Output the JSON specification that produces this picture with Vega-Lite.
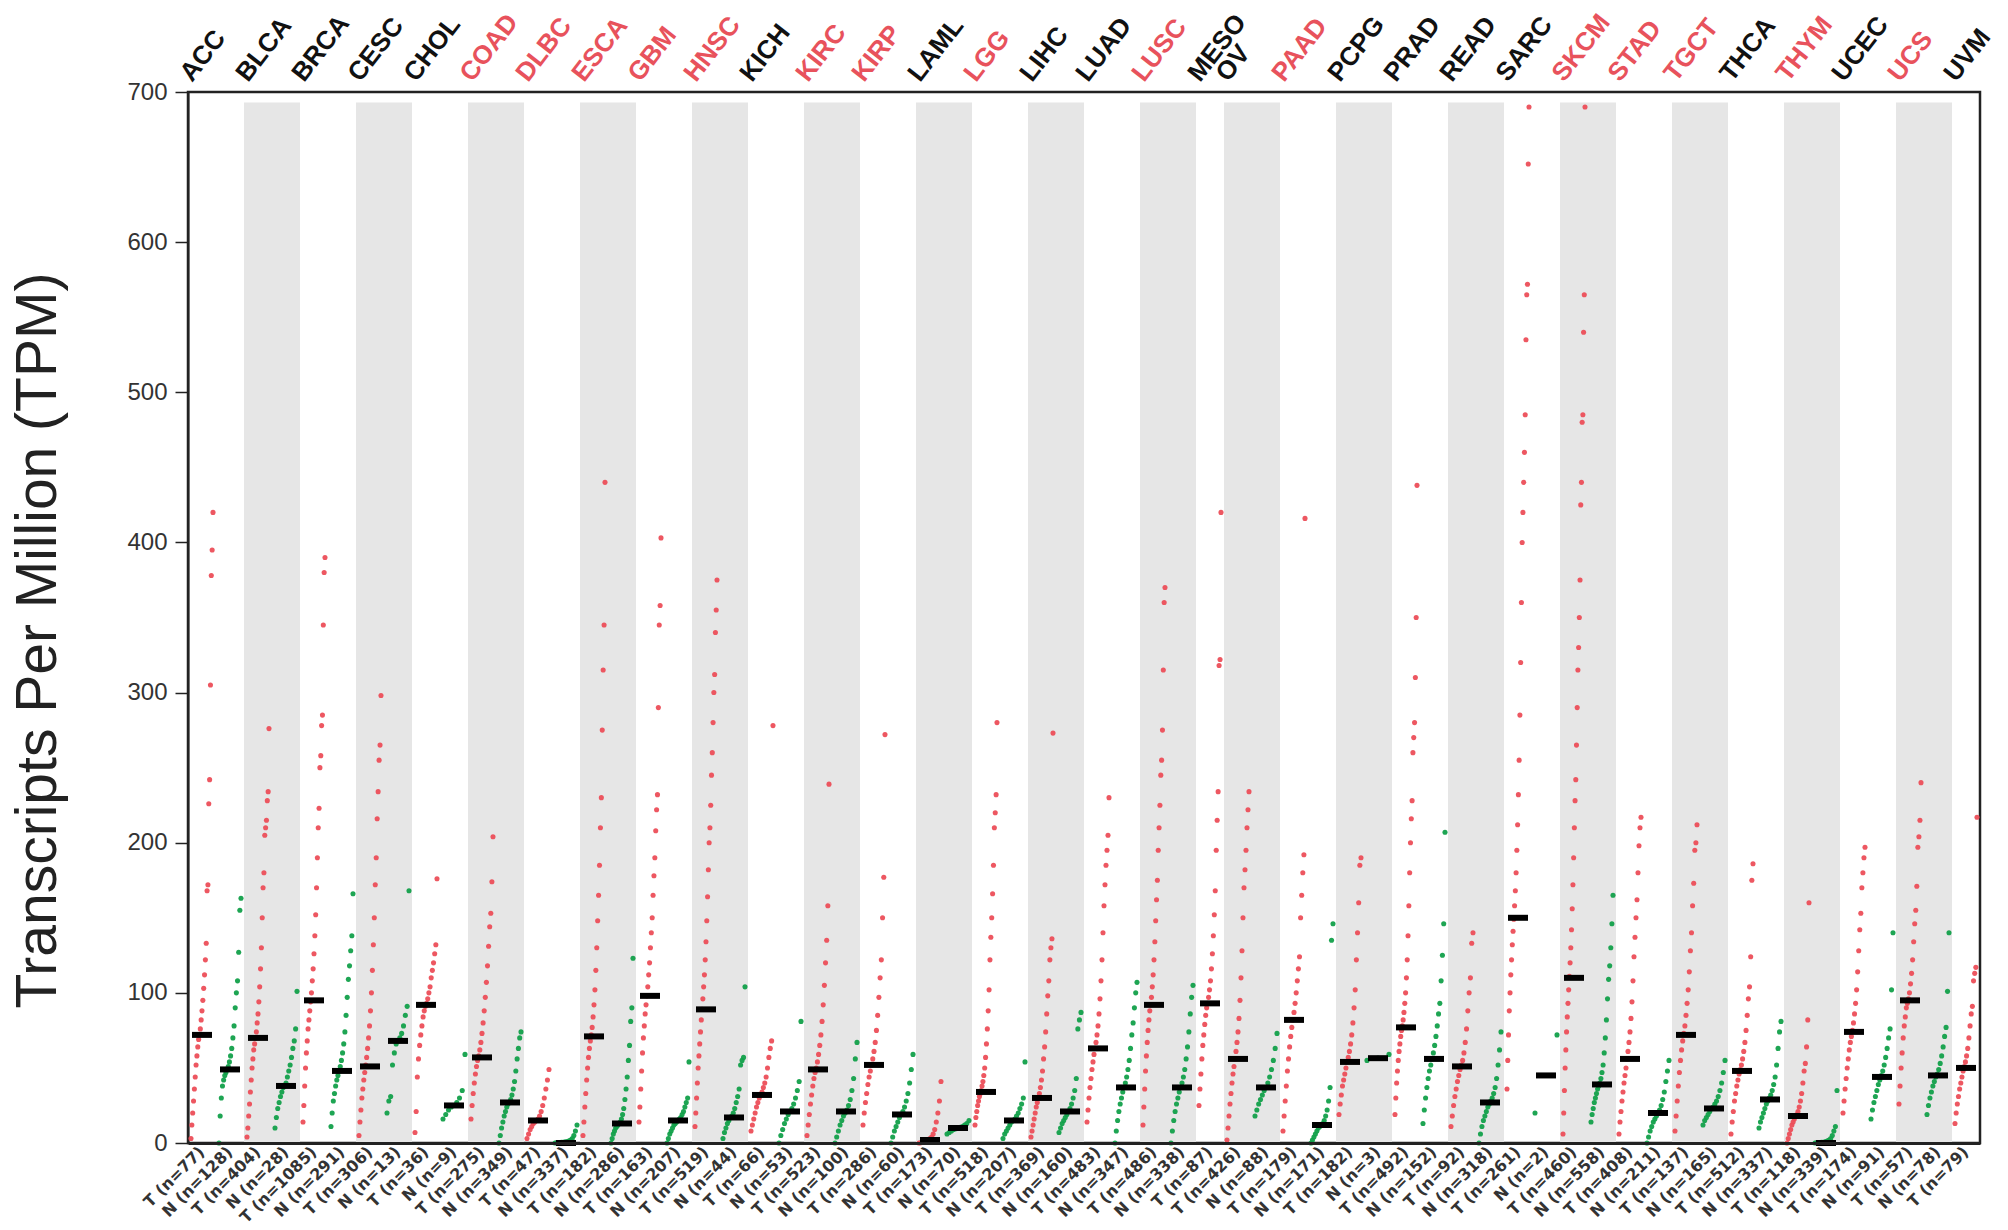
{
  "$schema": "https://vega.github.io/schema/vega-lite/v6.json",
  "width": 1792,
  "height": 1051,
  "autosize": {"type": "none"},
  "padding": {"left": 188, "top": 92, "right": 28, "bottom": 87},
  "background": "white",
  "datasets": {
    "cols": [
      {"k":1,"col":"01 T (n=77)","g":"T","shade":"w","m":72},
      {"k":2,"col":"02 N (n=128)","g":"N","shade":"w","m":49},
      {"k":3,"col":"03 T (n=404)","g":"T","shade":"g","m":70},
      {"k":4,"col":"04 N (n=28)","g":"N","shade":"g","m":38},
      {"k":5,"col":"05 T (n=1085)","g":"T","shade":"w","m":95},
      {"k":6,"col":"06 N (n=291)","g":"N","shade":"w","m":48},
      {"k":7,"col":"07 T (n=306)","g":"T","shade":"g","m":51},
      {"k":8,"col":"08 N (n=13)","g":"N","shade":"g","m":68},
      {"k":9,"col":"09 T (n=36)","g":"T","shade":"w","m":92},
      {"k":10,"col":"10 N (n=9)","g":"N","shade":"w","m":25},
      {"k":11,"col":"11 T (n=275)","g":"T","shade":"g","m":57},
      {"k":12,"col":"12 N (n=349)","g":"N","shade":"g","m":27},
      {"k":13,"col":"13 T (n=47)","g":"T","shade":"w","m":15},
      {"k":14,"col":"14 N (n=337)","g":"N","shade":"w","m":0},
      {"k":15,"col":"15 T (n=182)","g":"T","shade":"g","m":71},
      {"k":16,"col":"16 N (n=286)","g":"N","shade":"g","m":13},
      {"k":17,"col":"17 T (n=163)","g":"T","shade":"w","m":98},
      {"k":18,"col":"18 N (n=207)","g":"N","shade":"w","m":15},
      {"k":19,"col":"19 T (n=519)","g":"T","shade":"g","m":89},
      {"k":20,"col":"20 N (n=44)","g":"N","shade":"g","m":17},
      {"k":21,"col":"21 T (n=66)","g":"T","shade":"w","m":32},
      {"k":22,"col":"22 N (n=53)","g":"N","shade":"w","m":21},
      {"k":23,"col":"23 T (n=523)","g":"T","shade":"g","m":49},
      {"k":24,"col":"24 N (n=100)","g":"N","shade":"g","m":21},
      {"k":25,"col":"25 T (n=286)","g":"T","shade":"w","m":52},
      {"k":26,"col":"26 N (n=60)","g":"N","shade":"w","m":19},
      {"k":27,"col":"27 T (n=173)","g":"T","shade":"g","m":2},
      {"k":28,"col":"28 N (n=70)","g":"N","shade":"g","m":10},
      {"k":29,"col":"29 T (n=518)","g":"T","shade":"w","m":34},
      {"k":30,"col":"30 N (n=207)","g":"N","shade":"w","m":15},
      {"k":31,"col":"31 T (n=369)","g":"T","shade":"g","m":30},
      {"k":32,"col":"32 N (n=160)","g":"N","shade":"g","m":21},
      {"k":33,"col":"33 T (n=483)","g":"T","shade":"w","m":63},
      {"k":34,"col":"34 N (n=347)","g":"N","shade":"w","m":37},
      {"k":35,"col":"35 T (n=486)","g":"T","shade":"g","m":92},
      {"k":36,"col":"36 N (n=338)","g":"N","shade":"g","m":37},
      {"k":37,"col":"37 T (n=87)","g":"T","shade":"w","m":93},
      {"k":38,"col":"38 T (n=426)","g":"T","shade":"g","m":56},
      {"k":39,"col":"39 N (n=88)","g":"N","shade":"g","m":37},
      {"k":40,"col":"40 T (n=179)","g":"T","shade":"w","m":82},
      {"k":41,"col":"41 N (n=171)","g":"N","shade":"w","m":12},
      {"k":42,"col":"42 T (n=182)","g":"T","shade":"g","m":54},
      {"k":43,"col":"43 N (n=3)","g":"N","shade":"g","m":56.5},
      {"k":44,"col":"44 T (n=492)","g":"T","shade":"w","m":77},
      {"k":45,"col":"45 N (n=152)","g":"N","shade":"w","m":56},
      {"k":46,"col":"46 T (n=92)","g":"T","shade":"g","m":51},
      {"k":47,"col":"47 N (n=318)","g":"N","shade":"g","m":27},
      {"k":48,"col":"48 T (n=261)","g":"T","shade":"w","m":150},
      {"k":49,"col":"49 N (n=2)","g":"N","shade":"w","m":45},
      {"k":50,"col":"50 T (n=460)","g":"T","shade":"g","m":110},
      {"k":51,"col":"51 N (n=558)","g":"N","shade":"g","m":39},
      {"k":52,"col":"52 T (n=408)","g":"T","shade":"w","m":56},
      {"k":53,"col":"53 N (n=211)","g":"N","shade":"w","m":20},
      {"k":54,"col":"54 T (n=137)","g":"T","shade":"g","m":72},
      {"k":55,"col":"55 N (n=165)","g":"N","shade":"g","m":23},
      {"k":56,"col":"56 T (n=512)","g":"T","shade":"w","m":48},
      {"k":57,"col":"57 N (n=337)","g":"N","shade":"w","m":29},
      {"k":58,"col":"58 T (n=118)","g":"T","shade":"g","m":18},
      {"k":59,"col":"59 N (n=339)","g":"N","shade":"g","m":0},
      {"k":60,"col":"60 T (n=174)","g":"T","shade":"w","m":74},
      {"k":61,"col":"61 N (n=91)","g":"N","shade":"w","m":44},
      {"k":62,"col":"62 T (n=57)","g":"T","shade":"g","m":95},
      {"k":63,"col":"63 N (n=78)","g":"N","shade":"g","m":45},
      {"k":64,"col":"64 T (n=79)","g":"T","shade":"w","m":50}
    ],
    "types": [
      {"col":"01 T (n=77)","name":"ACC","sig":"no"},
      {"col":"03 T (n=404)","name":"BLCA","sig":"no"},
      {"col":"05 T (n=1085)","name":"BRCA","sig":"no"},
      {"col":"07 T (n=306)","name":"CESC","sig":"no"},
      {"col":"09 T (n=36)","name":"CHOL","sig":"no"},
      {"col":"11 T (n=275)","name":"COAD","sig":"yes"},
      {"col":"13 T (n=47)","name":"DLBC","sig":"yes"},
      {"col":"15 T (n=182)","name":"ESCA","sig":"yes"},
      {"col":"17 T (n=163)","name":"GBM","sig":"yes"},
      {"col":"19 T (n=519)","name":"HNSC","sig":"yes"},
      {"col":"21 T (n=66)","name":"KICH","sig":"no"},
      {"col":"23 T (n=523)","name":"KIRC","sig":"yes"},
      {"col":"25 T (n=286)","name":"KIRP","sig":"yes"},
      {"col":"27 T (n=173)","name":"LAML","sig":"no"},
      {"col":"29 T (n=518)","name":"LGG","sig":"yes"},
      {"col":"31 T (n=369)","name":"LIHC","sig":"no"},
      {"col":"33 T (n=483)","name":"LUAD","sig":"no"},
      {"col":"35 T (n=486)","name":"LUSC","sig":"yes"},
      {"col":"37 T (n=87)","name":"MESO","sig":"no"},
      {"col":"38 T (n=426)","name":"OV","sig":"no"},
      {"col":"40 T (n=179)","name":"PAAD","sig":"yes"},
      {"col":"42 T (n=182)","name":"PCPG","sig":"no"},
      {"col":"44 T (n=492)","name":"PRAD","sig":"no"},
      {"col":"46 T (n=92)","name":"READ","sig":"no"},
      {"col":"48 T (n=261)","name":"SARC","sig":"no"},
      {"col":"50 T (n=460)","name":"SKCM","sig":"yes"},
      {"col":"52 T (n=408)","name":"STAD","sig":"yes"},
      {"col":"54 T (n=137)","name":"TGCT","sig":"yes"},
      {"col":"56 T (n=512)","name":"THCA","sig":"no"},
      {"col":"58 T (n=118)","name":"THYM","sig":"yes"},
      {"col":"60 T (n=174)","name":"UCEC","sig":"no"},
      {"col":"62 T (n=57)","name":"UCS","sig":"yes"},
      {"col":"64 T (n=79)","name":"UVM","sig":"no"}
    ],
    "pts": [
      {"k":1,"v":3},{"k":1,"v":12},{"k":1,"v":20},{"k":1,"v":28},{"k":1,"v":36},{"k":1,"v":44},{"k":1,"v":52},{"k":1,"v":58},{"k":1,"v":64},{"k":1,"v":69},{"k":1,"v":72},{"k":1,"v":76},{"k":1,"v":82},{"k":1,"v":88},{"k":1,"v":95},{"k":1,"v":103},{"k":1,"v":112},{"k":1,"v":122},{"k":1,"v":133},{"k":1,"v":168},{"k":1,"v":172},{"k":1,"v":226},{"k":1,"v":242},{"k":1,"v":305},{"k":1,"v":378},{"k":1,"v":395},{"k":1,"v":420},
      {"k":2,"v":0},{"k":2,"v":18},{"k":2,"v":30},{"k":2,"v":38},{"k":2,"v":42},{"k":2,"v":45},{"k":2,"v":47},{"k":2,"v":49},{"k":2,"v":51},{"k":2,"v":54},{"k":2,"v":58},{"k":2,"v":63},{"k":2,"v":70},{"k":2,"v":78},{"k":2,"v":90},{"k":2,"v":100},{"k":2,"v":108},{"k":2,"v":127},{"k":2,"v":155},{"k":2,"v":163},
      {"k":3,"v":4},{"k":3,"v":10},{"k":3,"v":18},{"k":3,"v":26},{"k":3,"v":34},{"k":3,"v":42},{"k":3,"v":50},{"k":3,"v":56},{"k":3,"v":62},{"k":3,"v":66},{"k":3,"v":70},{"k":3,"v":74},{"k":3,"v":80},{"k":3,"v":86},{"k":3,"v":94},{"k":3,"v":104},{"k":3,"v":116},{"k":3,"v":130},{"k":3,"v":150},{"k":3,"v":170},{"k":3,"v":180},{"k":3,"v":205},{"k":3,"v":210},{"k":3,"v":215},{"k":3,"v":228},{"k":3,"v":234},{"k":3,"v":276},
      {"k":4,"v":10},{"k":4,"v":17},{"k":4,"v":23},{"k":4,"v":27},{"k":4,"v":31},{"k":4,"v":34},{"k":4,"v":37},{"k":4,"v":38},{"k":4,"v":40},{"k":4,"v":44},{"k":4,"v":48},{"k":4,"v":52},{"k":4,"v":57},{"k":4,"v":63},{"k":4,"v":68},{"k":4,"v":76},{"k":4,"v":101},
      {"k":5,"v":14},{"k":5,"v":25},{"k":5,"v":38},{"k":5,"v":50},{"k":5,"v":60},{"k":5,"v":68},{"k":5,"v":76},{"k":5,"v":82},{"k":5,"v":88},{"k":5,"v":94},{"k":5,"v":100},{"k":5,"v":108},{"k":5,"v":116},{"k":5,"v":126},{"k":5,"v":138},{"k":5,"v":152},{"k":5,"v":170},{"k":5,"v":190},{"k":5,"v":210},{"k":5,"v":223},{"k":5,"v":250},{"k":5,"v":258},{"k":5,"v":278},{"k":5,"v":285},{"k":5,"v":345},{"k":5,"v":380},{"k":5,"v":390},
      {"k":6,"v":11},{"k":6,"v":20},{"k":6,"v":28},{"k":6,"v":33},{"k":6,"v":38},{"k":6,"v":42},{"k":6,"v":45},{"k":6,"v":48},{"k":6,"v":51},{"k":6,"v":55},{"k":6,"v":60},{"k":6,"v":66},{"k":6,"v":74},{"k":6,"v":85},{"k":6,"v":97},{"k":6,"v":109},{"k":6,"v":118},{"k":6,"v":128},{"k":6,"v":138},{"k":6,"v":166},
      {"k":7,"v":5},{"k":7,"v":14},{"k":7,"v":22},{"k":7,"v":30},{"k":7,"v":36},{"k":7,"v":42},{"k":7,"v":47},{"k":7,"v":52},{"k":7,"v":57},{"k":7,"v":63},{"k":7,"v":70},{"k":7,"v":78},{"k":7,"v":88},{"k":7,"v":100},{"k":7,"v":115},{"k":7,"v":132},{"k":7,"v":150},{"k":7,"v":172},{"k":7,"v":190},{"k":7,"v":216},{"k":7,"v":234},{"k":7,"v":255},{"k":7,"v":265},{"k":7,"v":298},
      {"k":8,"v":20},{"k":8,"v":28},{"k":8,"v":31},{"k":8,"v":52},{"k":8,"v":60},{"k":8,"v":66},{"k":8,"v":68},{"k":8,"v":70},{"k":8,"v":73},{"k":8,"v":78},{"k":8,"v":85},{"k":8,"v":91},{"k":8,"v":168},
      {"k":9,"v":7},{"k":9,"v":21},{"k":9,"v":44},{"k":9,"v":56},{"k":9,"v":65},{"k":9,"v":72},{"k":9,"v":78},{"k":9,"v":84},{"k":9,"v":88},{"k":9,"v":91},{"k":9,"v":93},{"k":9,"v":96},{"k":9,"v":100},{"k":9,"v":104},{"k":9,"v":110},{"k":9,"v":115},{"k":9,"v":120},{"k":9,"v":126},{"k":9,"v":132},{"k":9,"v":176},
      {"k":10,"v":16},{"k":10,"v":19},{"k":10,"v":22},{"k":10,"v":24},{"k":10,"v":25},{"k":10,"v":27},{"k":10,"v":30},{"k":10,"v":35},{"k":10,"v":59},
      {"k":11,"v":16},{"k":11,"v":25},{"k":11,"v":33},{"k":11,"v":40},{"k":11,"v":46},{"k":11,"v":51},{"k":11,"v":55},{"k":11,"v":58},{"k":11,"v":62},{"k":11,"v":67},{"k":11,"v":73},{"k":11,"v":80},{"k":11,"v":88},{"k":11,"v":97},{"k":11,"v":107},{"k":11,"v":118},{"k":11,"v":131},{"k":11,"v":144},{"k":11,"v":153},{"k":11,"v":174},{"k":11,"v":204},
      {"k":12,"v":0},{"k":12,"v":5},{"k":12,"v":10},{"k":12,"v":14},{"k":12,"v":18},{"k":12,"v":21},{"k":12,"v":24},{"k":12,"v":26},{"k":12,"v":27},{"k":12,"v":29},{"k":12,"v":32},{"k":12,"v":36},{"k":12,"v":41},{"k":12,"v":48},{"k":12,"v":56},{"k":12,"v":63},{"k":12,"v":70},{"k":12,"v":74},
      {"k":13,"v":3},{"k":13,"v":6},{"k":13,"v":9},{"k":13,"v":11},{"k":13,"v":13},{"k":13,"v":14},{"k":13,"v":15},{"k":13,"v":16},{"k":13,"v":18},{"k":13,"v":21},{"k":13,"v":25},{"k":13,"v":30},{"k":13,"v":36},{"k":13,"v":42},{"k":13,"v":49},
      {"k":14,"v":0},{"k":14,"v":0.1},{"k":14,"v":0.2},{"k":14,"v":0.3},{"k":14,"v":0.4},{"k":14,"v":0.5},{"k":14,"v":0.6},{"k":14,"v":0.8},{"k":14,"v":1},{"k":14,"v":1.5},{"k":14,"v":2},{"k":14,"v":3},{"k":14,"v":5},{"k":14,"v":8},{"k":14,"v":12},
      {"k":15,"v":5},{"k":15,"v":14},{"k":15,"v":24},{"k":15,"v":33},{"k":15,"v":42},{"k":15,"v":50},{"k":15,"v":57},{"k":15,"v":63},{"k":15,"v":68},{"k":15,"v":72},{"k":15,"v":77},{"k":15,"v":84},{"k":15,"v":92},{"k":15,"v":102},{"k":15,"v":115},{"k":15,"v":130},{"k":15,"v":148},{"k":15,"v":165},{"k":15,"v":185},{"k":15,"v":210},{"k":15,"v":230},{"k":15,"v":275},{"k":15,"v":315},{"k":15,"v":345},{"k":15,"v":440},
      {"k":16,"v":0},{"k":16,"v":3},{"k":16,"v":6},{"k":16,"v":8},{"k":16,"v":10},{"k":16,"v":11},{"k":16,"v":12},{"k":16,"v":13},{"k":16,"v":14},{"k":16,"v":16},{"k":16,"v":19},{"k":16,"v":23},{"k":16,"v":29},{"k":16,"v":36},{"k":16,"v":44},{"k":16,"v":55},{"k":16,"v":65},{"k":16,"v":81},{"k":16,"v":90},{"k":16,"v":123},
      {"k":17,"v":14},{"k":17,"v":24},{"k":17,"v":36},{"k":17,"v":48},{"k":17,"v":60},{"k":17,"v":70},{"k":17,"v":78},{"k":17,"v":86},{"k":17,"v":92},{"k":17,"v":98},{"k":17,"v":104},{"k":17,"v":112},{"k":17,"v":120},{"k":17,"v":130},{"k":17,"v":140},{"k":17,"v":150},{"k":17,"v":165},{"k":17,"v":178},{"k":17,"v":190},{"k":17,"v":208},{"k":17,"v":222},{"k":17,"v":232},{"k":17,"v":290},{"k":17,"v":345},{"k":17,"v":358},{"k":17,"v":403},
      {"k":18,"v":0},{"k":18,"v":3},{"k":18,"v":6},{"k":18,"v":8},{"k":18,"v":10},{"k":18,"v":12},{"k":18,"v":13},{"k":18,"v":14},{"k":18,"v":15},{"k":18,"v":16},{"k":18,"v":17},{"k":18,"v":19},{"k":18,"v":21},{"k":18,"v":24},{"k":18,"v":27},{"k":18,"v":30},{"k":18,"v":54},
      {"k":19,"v":11},{"k":19,"v":20},{"k":19,"v":30},{"k":19,"v":40},{"k":19,"v":50},{"k":19,"v":58},{"k":19,"v":66},{"k":19,"v":74},{"k":19,"v":82},{"k":19,"v":89},{"k":19,"v":96},{"k":19,"v":104},{"k":19,"v":112},{"k":19,"v":122},{"k":19,"v":134},{"k":19,"v":148},{"k":19,"v":164},{"k":19,"v":182},{"k":19,"v":200},{"k":19,"v":210},{"k":19,"v":225},{"k":19,"v":245},{"k":19,"v":260},{"k":19,"v":280},{"k":19,"v":300},{"k":19,"v":312},{"k":19,"v":340},{"k":19,"v":355},{"k":19,"v":375},
      {"k":20,"v":3},{"k":20,"v":7},{"k":20,"v":10},{"k":20,"v":13},{"k":20,"v":15},{"k":20,"v":17},{"k":20,"v":18},{"k":20,"v":20},{"k":20,"v":23},{"k":20,"v":27},{"k":20,"v":31},{"k":20,"v":36},{"k":20,"v":52},{"k":20,"v":55},{"k":20,"v":57},{"k":20,"v":104},
      {"k":21,"v":8},{"k":21,"v":12},{"k":21,"v":16},{"k":21,"v":20},{"k":21,"v":24},{"k":21,"v":27},{"k":21,"v":30},{"k":21,"v":32},{"k":21,"v":34},{"k":21,"v":37},{"k":21,"v":40},{"k":21,"v":44},{"k":21,"v":50},{"k":21,"v":57},{"k":21,"v":63},{"k":21,"v":68},{"k":21,"v":278},
      {"k":22,"v":0},{"k":22,"v":5},{"k":22,"v":9},{"k":22,"v":13},{"k":22,"v":16},{"k":22,"v":19},{"k":22,"v":21},{"k":22,"v":23},{"k":22,"v":26},{"k":22,"v":30},{"k":22,"v":35},{"k":22,"v":41},{"k":22,"v":81},
      {"k":23,"v":5},{"k":23,"v":12},{"k":23,"v":19},{"k":23,"v":26},{"k":23,"v":32},{"k":23,"v":38},{"k":23,"v":43},{"k":23,"v":47},{"k":23,"v":50},{"k":23,"v":54},{"k":23,"v":59},{"k":23,"v":65},{"k":23,"v":72},{"k":23,"v":81},{"k":23,"v":92},{"k":23,"v":105},{"k":23,"v":120},{"k":23,"v":135},{"k":23,"v":158},{"k":23,"v":239},
      {"k":24,"v":0},{"k":24,"v":4},{"k":24,"v":8},{"k":24,"v":12},{"k":24,"v":15},{"k":24,"v":18},{"k":24,"v":20},{"k":24,"v":22},{"k":24,"v":25},{"k":24,"v":29},{"k":24,"v":35},{"k":24,"v":43},{"k":24,"v":56},{"k":24,"v":67},
      {"k":25,"v":12},{"k":25,"v":20},{"k":25,"v":27},{"k":25,"v":33},{"k":25,"v":39},{"k":25,"v":44},{"k":25,"v":48},{"k":25,"v":52},{"k":25,"v":56},{"k":25,"v":61},{"k":25,"v":67},{"k":25,"v":75},{"k":25,"v":85},{"k":25,"v":97},{"k":25,"v":110},{"k":25,"v":122},{"k":25,"v":150},{"k":25,"v":177},{"k":25,"v":272},
      {"k":26,"v":0},{"k":26,"v":4},{"k":26,"v":8},{"k":26,"v":11},{"k":26,"v":14},{"k":26,"v":17},{"k":26,"v":19},{"k":26,"v":21},{"k":26,"v":24},{"k":26,"v":28},{"k":26,"v":33},{"k":26,"v":40},{"k":26,"v":49},{"k":26,"v":59},
      {"k":27,"v":0},{"k":27,"v":0.2},{"k":27,"v":0.5},{"k":27,"v":1},{"k":27,"v":1.5},{"k":27,"v":2},{"k":27,"v":2.5},{"k":27,"v":3},{"k":27,"v":4},{"k":27,"v":6},{"k":27,"v":9},{"k":27,"v":14},{"k":27,"v":20},{"k":27,"v":28},{"k":27,"v":41},
      {"k":28,"v":6},{"k":28,"v":7},{"k":28,"v":8},{"k":28,"v":9},{"k":28,"v":9.5},{"k":28,"v":10},{"k":28,"v":10.5},{"k":28,"v":11},{"k":28,"v":12},{"k":28,"v":13},{"k":28,"v":15},
      {"k":29,"v":12},{"k":29,"v":17},{"k":29,"v":21},{"k":29,"v":25},{"k":29,"v":28},{"k":29,"v":31},{"k":29,"v":33},{"k":29,"v":35},{"k":29,"v":38},{"k":29,"v":41},{"k":29,"v":45},{"k":29,"v":50},{"k":29,"v":57},{"k":29,"v":66},{"k":29,"v":76},{"k":29,"v":88},{"k":29,"v":102},{"k":29,"v":122},{"k":29,"v":137},{"k":29,"v":150},{"k":29,"v":166},{"k":29,"v":185},{"k":29,"v":210},{"k":29,"v":220},{"k":29,"v":232},{"k":29,"v":280},
      {"k":30,"v":3},{"k":30,"v":6},{"k":30,"v":8},{"k":30,"v":10},{"k":30,"v":12},{"k":30,"v":14},{"k":30,"v":15},{"k":30,"v":16},{"k":30,"v":18},{"k":30,"v":20},{"k":30,"v":23},{"k":30,"v":26},{"k":30,"v":30},{"k":30,"v":54},
      {"k":31,"v":4},{"k":31,"v":8},{"k":31,"v":12},{"k":31,"v":16},{"k":31,"v":20},{"k":31,"v":24},{"k":31,"v":27},{"k":31,"v":30},{"k":31,"v":33},{"k":31,"v":37},{"k":31,"v":42},{"k":31,"v":48},{"k":31,"v":56},{"k":31,"v":64},{"k":31,"v":74},{"k":31,"v":86},{"k":31,"v":98},{"k":31,"v":108},{"k":31,"v":122},{"k":31,"v":130},{"k":31,"v":136},{"k":31,"v":273},
      {"k":32,"v":7},{"k":32,"v":10},{"k":32,"v":13},{"k":32,"v":15},{"k":32,"v":17},{"k":32,"v":19},{"k":32,"v":21},{"k":32,"v":23},{"k":32,"v":26},{"k":32,"v":30},{"k":32,"v":35},{"k":32,"v":43},{"k":32,"v":76},{"k":32,"v":82},{"k":32,"v":87},
      {"k":33,"v":14},{"k":33,"v":22},{"k":33,"v":30},{"k":33,"v":37},{"k":33,"v":43},{"k":33,"v":49},{"k":33,"v":54},{"k":33,"v":59},{"k":33,"v":63},{"k":33,"v":67},{"k":33,"v":72},{"k":33,"v":78},{"k":33,"v":86},{"k":33,"v":96},{"k":33,"v":108},{"k":33,"v":122},{"k":33,"v":140},{"k":33,"v":158},{"k":33,"v":172},{"k":33,"v":185},{"k":33,"v":195},{"k":33,"v":205},{"k":33,"v":230},
      {"k":34,"v":0},{"k":34,"v":8},{"k":34,"v":15},{"k":34,"v":21},{"k":34,"v":26},{"k":34,"v":30},{"k":34,"v":34},{"k":34,"v":37},{"k":34,"v":40},{"k":34,"v":44},{"k":34,"v":49},{"k":34,"v":55},{"k":34,"v":63},{"k":34,"v":72},{"k":34,"v":80},{"k":34,"v":90},{"k":34,"v":100},{"k":34,"v":107},
      {"k":35,"v":12},{"k":35,"v":24},{"k":35,"v":36},{"k":35,"v":48},{"k":35,"v":58},{"k":35,"v":67},{"k":35,"v":75},{"k":35,"v":82},{"k":35,"v":88},{"k":35,"v":92},{"k":35,"v":97},{"k":35,"v":104},{"k":35,"v":112},{"k":35,"v":122},{"k":35,"v":134},{"k":35,"v":148},{"k":35,"v":162},{"k":35,"v":175},{"k":35,"v":195},{"k":35,"v":210},{"k":35,"v":225},{"k":35,"v":245},{"k":35,"v":255},{"k":35,"v":275},{"k":35,"v":315},{"k":35,"v":360},{"k":35,"v":370},
      {"k":36,"v":0},{"k":36,"v":8},{"k":36,"v":15},{"k":36,"v":21},{"k":36,"v":26},{"k":36,"v":30},{"k":36,"v":34},{"k":36,"v":37},{"k":36,"v":40},{"k":36,"v":44},{"k":36,"v":49},{"k":36,"v":56},{"k":36,"v":64},{"k":36,"v":74},{"k":36,"v":86},{"k":36,"v":97},{"k":36,"v":105},
      {"k":37,"v":25},{"k":37,"v":36},{"k":37,"v":46},{"k":37,"v":56},{"k":37,"v":65},{"k":37,"v":72},{"k":37,"v":79},{"k":37,"v":85},{"k":37,"v":90},{"k":37,"v":93},{"k":37,"v":97},{"k":37,"v":102},{"k":37,"v":108},{"k":37,"v":116},{"k":37,"v":126},{"k":37,"v":138},{"k":37,"v":152},{"k":37,"v":168},{"k":37,"v":195},{"k":37,"v":215},{"k":37,"v":234},{"k":37,"v":318},{"k":37,"v":322},{"k":37,"v":420},
      {"k":38,"v":2},{"k":38,"v":10},{"k":38,"v":18},{"k":38,"v":26},{"k":38,"v":33},{"k":38,"v":40},{"k":38,"v":46},{"k":38,"v":51},{"k":38,"v":56},{"k":38,"v":61},{"k":38,"v":67},{"k":38,"v":74},{"k":38,"v":83},{"k":38,"v":95},{"k":38,"v":110},{"k":38,"v":128},{"k":38,"v":150},{"k":38,"v":170},{"k":38,"v":182},{"k":38,"v":195},{"k":38,"v":210},{"k":38,"v":222},{"k":38,"v":234},
      {"k":39,"v":18},{"k":39,"v":22},{"k":39,"v":26},{"k":39,"v":29},{"k":39,"v":32},{"k":39,"v":35},{"k":39,"v":37},{"k":39,"v":40},{"k":39,"v":44},{"k":39,"v":49},{"k":39,"v":55},{"k":39,"v":63},{"k":39,"v":73},
      {"k":40,"v":8},{"k":40,"v":18},{"k":40,"v":28},{"k":40,"v":38},{"k":40,"v":48},{"k":40,"v":56},{"k":40,"v":64},{"k":40,"v":71},{"k":40,"v":77},{"k":40,"v":82},{"k":40,"v":87},{"k":40,"v":93},{"k":40,"v":100},{"k":40,"v":108},{"k":40,"v":116},{"k":40,"v":124},{"k":40,"v":150},{"k":40,"v":165},{"k":40,"v":180},{"k":40,"v":192},{"k":40,"v":416},
      {"k":41,"v":0},{"k":41,"v":2},{"k":41,"v":4},{"k":41,"v":6},{"k":41,"v":8},{"k":41,"v":10},{"k":41,"v":11},{"k":41,"v":12},{"k":41,"v":13},{"k":41,"v":15},{"k":41,"v":18},{"k":41,"v":22},{"k":41,"v":28},{"k":41,"v":37},{"k":41,"v":135},{"k":41,"v":146},
      {"k":42,"v":19},{"k":42,"v":26},{"k":42,"v":32},{"k":42,"v":38},{"k":42,"v":42},{"k":42,"v":46},{"k":42,"v":50},{"k":42,"v":54},{"k":42,"v":57},{"k":42,"v":61},{"k":42,"v":66},{"k":42,"v":72},{"k":42,"v":80},{"k":42,"v":90},{"k":42,"v":102},{"k":42,"v":122},{"k":42,"v":140},{"k":42,"v":160},{"k":42,"v":185},{"k":42,"v":190},
      {"k":43,"v":55},{"k":43,"v":56.5},{"k":43,"v":59},
      {"k":44,"v":19},{"k":44,"v":30},{"k":44,"v":40},{"k":44,"v":48},{"k":44,"v":55},{"k":44,"v":61},{"k":44,"v":66},{"k":44,"v":71},{"k":44,"v":75},{"k":44,"v":78},{"k":44,"v":82},{"k":44,"v":87},{"k":44,"v":93},{"k":44,"v":100},{"k":44,"v":110},{"k":44,"v":122},{"k":44,"v":138},{"k":44,"v":158},{"k":44,"v":180},{"k":44,"v":200},{"k":44,"v":216},{"k":44,"v":228},{"k":44,"v":260},{"k":44,"v":270},{"k":44,"v":280},{"k":44,"v":310},{"k":44,"v":350},{"k":44,"v":438},
      {"k":45,"v":13},{"k":45,"v":22},{"k":45,"v":30},{"k":45,"v":37},{"k":45,"v":43},{"k":45,"v":48},{"k":45,"v":52},{"k":45,"v":56},{"k":45,"v":60},{"k":45,"v":65},{"k":45,"v":71},{"k":45,"v":78},{"k":45,"v":86},{"k":45,"v":93},{"k":45,"v":108},{"k":45,"v":125},{"k":45,"v":146},{"k":45,"v":207},
      {"k":46,"v":11},{"k":46,"v":18},{"k":46,"v":25},{"k":46,"v":31},{"k":46,"v":36},{"k":46,"v":41},{"k":46,"v":45},{"k":46,"v":49},{"k":46,"v":52},{"k":46,"v":55},{"k":46,"v":60},{"k":46,"v":67},{"k":46,"v":76},{"k":46,"v":88},{"k":46,"v":100},{"k":46,"v":110},{"k":46,"v":133},{"k":46,"v":140},
      {"k":47,"v":0},{"k":47,"v":6},{"k":47,"v":11},{"k":47,"v":15},{"k":47,"v":18},{"k":47,"v":21},{"k":47,"v":24},{"k":47,"v":26},{"k":47,"v":28},{"k":47,"v":30},{"k":47,"v":33},{"k":47,"v":37},{"k":47,"v":43},{"k":47,"v":52},{"k":47,"v":62},{"k":47,"v":74},
      {"k":48,"v":36},{"k":48,"v":55},{"k":48,"v":72},{"k":48,"v":88},{"k":48,"v":100},{"k":48,"v":112},{"k":48,"v":122},{"k":48,"v":132},{"k":48,"v":141},{"k":48,"v":149},{"k":48,"v":158},{"k":48,"v":168},{"k":48,"v":180},{"k":48,"v":195},{"k":48,"v":212},{"k":48,"v":232},{"k":48,"v":255},{"k":48,"v":285},{"k":48,"v":320},{"k":48,"v":360},{"k":48,"v":400},{"k":48,"v":420},{"k":48,"v":440},{"k":48,"v":460},{"k":48,"v":485},{"k":48,"v":535},{"k":48,"v":565},{"k":48,"v":572},{"k":48,"v":652},{"k":48,"v":690},
      {"k":49,"v":20},{"k":49,"v":72},
      {"k":50,"v":6},{"k":50,"v":20},{"k":50,"v":35},{"k":50,"v":50},{"k":50,"v":62},{"k":50,"v":74},{"k":50,"v":84},{"k":50,"v":93},{"k":50,"v":102},{"k":50,"v":111},{"k":50,"v":120},{"k":50,"v":130},{"k":50,"v":142},{"k":50,"v":156},{"k":50,"v":172},{"k":50,"v":190},{"k":50,"v":210},{"k":50,"v":228},{"k":50,"v":242},{"k":50,"v":265},{"k":50,"v":290},{"k":50,"v":315},{"k":50,"v":330},{"k":50,"v":350},{"k":50,"v":375},{"k":50,"v":425},{"k":50,"v":440},{"k":50,"v":480},{"k":50,"v":485},{"k":50,"v":540},{"k":50,"v":565},{"k":50,"v":690},
      {"k":51,"v":14},{"k":51,"v":19},{"k":51,"v":23},{"k":51,"v":27},{"k":51,"v":30},{"k":51,"v":33},{"k":51,"v":36},{"k":51,"v":38},{"k":51,"v":40},{"k":51,"v":43},{"k":51,"v":47},{"k":51,"v":52},{"k":51,"v":60},{"k":51,"v":70},{"k":51,"v":82},{"k":51,"v":96},{"k":51,"v":109},{"k":51,"v":118},{"k":51,"v":130},{"k":51,"v":146},{"k":51,"v":165},
      {"k":52,"v":6},{"k":52,"v":14},{"k":52,"v":21},{"k":52,"v":28},{"k":52,"v":34},{"k":52,"v":40},{"k":52,"v":45},{"k":52,"v":50},{"k":52,"v":56},{"k":52,"v":61},{"k":52,"v":67},{"k":52,"v":74},{"k":52,"v":83},{"k":52,"v":94},{"k":52,"v":108},{"k":52,"v":124},{"k":52,"v":137},{"k":52,"v":150},{"k":52,"v":162},{"k":52,"v":180},{"k":52,"v":198},{"k":52,"v":210},{"k":52,"v":217},
      {"k":53,"v":0},{"k":53,"v":4},{"k":53,"v":8},{"k":53,"v":11},{"k":53,"v":14},{"k":53,"v":16},{"k":53,"v":18},{"k":53,"v":20},{"k":53,"v":22},{"k":53,"v":25},{"k":53,"v":29},{"k":53,"v":34},{"k":53,"v":41},{"k":53,"v":48},{"k":53,"v":55},
      {"k":54,"v":8},{"k":54,"v":18},{"k":54,"v":28},{"k":54,"v":38},{"k":54,"v":47},{"k":54,"v":55},{"k":54,"v":62},{"k":54,"v":68},{"k":54,"v":73},{"k":54,"v":78},{"k":54,"v":85},{"k":54,"v":93},{"k":54,"v":102},{"k":54,"v":114},{"k":54,"v":128},{"k":54,"v":140},{"k":54,"v":158},{"k":54,"v":173},{"k":54,"v":195},{"k":54,"v":200},{"k":54,"v":212},
      {"k":55,"v":12},{"k":55,"v":15},{"k":55,"v":17},{"k":55,"v":19},{"k":55,"v":21},{"k":55,"v":23},{"k":55,"v":24},{"k":55,"v":26},{"k":55,"v":28},{"k":55,"v":31},{"k":55,"v":35},{"k":55,"v":40},{"k":55,"v":47},{"k":55,"v":55},
      {"k":56,"v":6},{"k":56,"v":14},{"k":56,"v":21},{"k":56,"v":28},{"k":56,"v":33},{"k":56,"v":38},{"k":56,"v":42},{"k":56,"v":46},{"k":56,"v":49},{"k":56,"v":52},{"k":56,"v":56},{"k":56,"v":61},{"k":56,"v":67},{"k":56,"v":75},{"k":56,"v":85},{"k":56,"v":96},{"k":56,"v":104},{"k":56,"v":124},{"k":56,"v":175},{"k":56,"v":186},
      {"k":57,"v":10},{"k":57,"v":14},{"k":57,"v":17},{"k":57,"v":20},{"k":57,"v":23},{"k":57,"v":26},{"k":57,"v":28},{"k":57,"v":30},{"k":57,"v":32},{"k":57,"v":35},{"k":57,"v":39},{"k":57,"v":44},{"k":57,"v":52},{"k":57,"v":63},{"k":57,"v":74},{"k":57,"v":81},
      {"k":58,"v":0},{"k":58,"v":3},{"k":58,"v":6},{"k":58,"v":9},{"k":58,"v":12},{"k":58,"v":14},{"k":58,"v":16},{"k":58,"v":18},{"k":58,"v":19},{"k":58,"v":21},{"k":58,"v":24},{"k":58,"v":28},{"k":58,"v":33},{"k":58,"v":40},{"k":58,"v":48},{"k":58,"v":53},{"k":58,"v":64},{"k":58,"v":82},{"k":58,"v":160},
      {"k":59,"v":0},{"k":59,"v":0.1},{"k":59,"v":0.2},{"k":59,"v":0.3},{"k":59,"v":0.4},{"k":59,"v":0.5},{"k":59,"v":0.7},{"k":59,"v":1},{"k":59,"v":1.5},{"k":59,"v":2},{"k":59,"v":3},{"k":59,"v":5},{"k":59,"v":8},{"k":59,"v":11},{"k":59,"v":35},
      {"k":60,"v":20},{"k":60,"v":28},{"k":60,"v":36},{"k":60,"v":43},{"k":60,"v":50},{"k":60,"v":56},{"k":60,"v":62},{"k":60,"v":67},{"k":60,"v":71},{"k":60,"v":75},{"k":60,"v":80},{"k":60,"v":86},{"k":60,"v":93},{"k":60,"v":102},{"k":60,"v":114},{"k":60,"v":128},{"k":60,"v":142},{"k":60,"v":153},{"k":60,"v":170},{"k":60,"v":180},{"k":60,"v":190},{"k":60,"v":197},
      {"k":61,"v":16},{"k":61,"v":22},{"k":61,"v":27},{"k":61,"v":31},{"k":61,"v":35},{"k":61,"v":39},{"k":61,"v":42},{"k":61,"v":45},{"k":61,"v":48},{"k":61,"v":52},{"k":61,"v":57},{"k":61,"v":63},{"k":61,"v":70},{"k":61,"v":76},{"k":61,"v":102},{"k":61,"v":140},
      {"k":62,"v":26},{"k":62,"v":38},{"k":62,"v":50},{"k":62,"v":60},{"k":62,"v":70},{"k":62,"v":78},{"k":62,"v":84},{"k":62,"v":90},{"k":62,"v":93},{"k":62,"v":96},{"k":62,"v":100},{"k":62,"v":106},{"k":62,"v":113},{"k":62,"v":122},{"k":62,"v":134},{"k":62,"v":146},{"k":62,"v":155},{"k":62,"v":171},{"k":62,"v":197},{"k":62,"v":204},{"k":62,"v":215},{"k":62,"v":240},
      {"k":63,"v":19},{"k":63,"v":25},{"k":63,"v":30},{"k":63,"v":34},{"k":63,"v":38},{"k":63,"v":41},{"k":63,"v":44},{"k":63,"v":46},{"k":63,"v":49},{"k":63,"v":53},{"k":63,"v":58},{"k":63,"v":64},{"k":63,"v":71},{"k":63,"v":77},{"k":63,"v":101},{"k":63,"v":140},
      {"k":64,"v":13},{"k":64,"v":20},{"k":64,"v":26},{"k":64,"v":31},{"k":64,"v":36},{"k":64,"v":40},{"k":64,"v":44},{"k":64,"v":48},{"k":64,"v":51},{"k":64,"v":54},{"k":64,"v":58},{"k":64,"v":63},{"k":64,"v":70},{"k":64,"v":78},{"k":64,"v":86},{"k":64,"v":91},{"k":64,"v":108},{"k":64,"v":113},{"k":64,"v":117},{"k":64,"v":217}
    ]
  },
  "encoding": {
    "x": {
      "field": "col",
      "type": "nominal",
      "scale": {"type": "band", "paddingInner": 0, "paddingOuter": 0},
      "axis": {
        "title": null,
        "orient": "bottom",
        "labelExpr": "substring(datum.label, 3)",
        "labelAngle": -45,
        "labelAlign": "right",
        "labelBaseline": "middle",
        "labelFont": "DejaVu Sans",
        "labelFontWeight": "bold",
        "labelFontSize": 16,
        "labelColor": "#333333",
        "labelPadding": 6,
        "labelOverlap": false,
        "labelBound": false,
        "ticks": false,
        "domainColor": "#222222",
        "domainWidth": 3
      }
    }
  },
  "layer": [
    {
      "data": {"name": "cols"},
      "transform": [{"filter": "datum.shade == 'g'"}],
      "mark": {"type": "rect", "color": "#e6e6e6"},
      "encoding": {
        "y": {"datum": 0, "type": "quantitative"},
        "y2": {"datum": 693}
      }
    },
    {
      "data": {"name": "pts"},
      "transform": [
        {"lookup": "k", "from": {"data": {"name": "cols"}, "key": "k", "fields": ["col", "g"]}},
        {"window": [{"op": "percent_rank", "as": "r"}], "sort": [{"field": "v", "order": "ascending"}], "groupby": ["k"]}
      ],
      "mark": {"type": "circle", "size": 26, "opacity": 0.95},
      "encoding": {
        "xOffset": {"field": "r", "type": "quantitative", "scale": {"domain": [0, 1], "range": [3, 25]}},
        "y": {
          "field": "v",
          "type": "quantitative",
          "scale": {"domain": [0, 700], "nice": false, "zero": false},
          "axis": {
            "title": "Transcripts Per Million (TPM)",
            "titleFont": "Liberation Sans",
            "titleFontSize": 57,
            "titleFontWeight": "normal",
            "titleColor": "#222222",
            "titleAngle": 270,
            "titleAlign": "center",
            "titleBaseline": "middle",
            "titleX": -150,
            "titleY": 548,
            "values": [0, 100, 200, 300, 400, 500, 600, 700],
            "labelFont": "Liberation Sans",
            "labelFontSize": 24,
            "labelColor": "#333333",
            "labelPadding": 8,
            "tickSize": 13,
            "tickColor": "#222222",
            "tickWidth": 1.5,
            "domainColor": "#222222",
            "domainWidth": 2,
            "grid": false
          }
        },
        "color": {
          "field": "g",
          "type": "nominal",
          "scale": {"domain": ["T", "N"], "range": ["#ec4e58", "#12a04a"]},
          "legend": null
        }
      }
    },
    {
      "data": {"name": "cols"},
      "mark": {"type": "tick", "color": "#000000", "thickness": 6, "size": 20, "orient": "horizontal", "opacity": 1},
      "encoding": {
        "y": {"field": "m", "type": "quantitative"}
      }
    },
    {
      "data": {"name": "types"},
      "mark": {
        "type": "text",
        "font": "Liberation Sans",
        "fontWeight": "bold",
        "fontSize": 26,
        "angle": -52,
        "align": "left",
        "baseline": "alphabetic",
        "dx": 1,
        "dy": -13.5
      },
      "encoding": {
        "y": {"datum": 700, "type": "quantitative"},
        "text": {"field": "name"},
        "color": {
          "field": "sig",
          "type": "nominal",
          "scale": {"domain": ["no", "yes"], "range": ["#111111", "#e8525c"]},
          "legend": null
        }
      }
    }
  ],
  "resolve": {"scale": {"color": "independent", "xOffset": "independent"}},
  "config": {
    "view": {"stroke": "#222222", "strokeWidth": 2.5},
    "axis": {"grid": false}
  }
}
